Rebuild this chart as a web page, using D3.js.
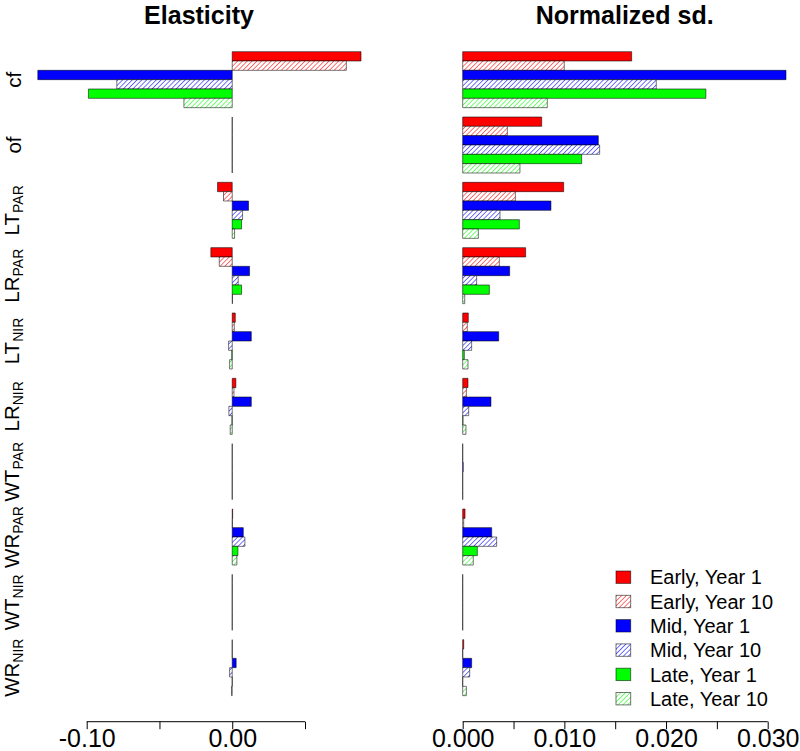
<!DOCTYPE html>
<html>
<head>
<meta charset="utf-8">
<script src="https://cdn.jsdelivr.net/npm/d3@7"></script>
<style>
  html, body { margin: 0; padding: 0; background: #fff; }
  svg { display: block; font-family: "Liberation Sans", Arial, Helvetica, sans-serif; }
</style>
</head>
<body>
<svg id="chart" width="800" height="751"></svg>
<script>
// ---- data ----
const categories = ["cf", "of", "LT_PAR", "LR_PAR", "LT_NIR", "LR_NIR", "WT_PAR", "WR_PAR", "WT_NIR", "WR_NIR"];
const seriesNames = ["Early, Year 1", "Early, Year 10", "Mid, Year 1", "Mid, Year 10", "Late, Year 1", "Late, Year 10"];
const seriesColors = ["#FF0000", "#FF0000", "#0000FF", "#0000FF", "#00FF00", "#00FF00"];
const seriesHatched = [false, true, false, true, false, true];

// Elasticity
const elasEarlyY1  = [0.0885, 0, -0.0101, -0.0147,  0.0021,  0.0025, 0, 0.0003, 0,  0];
const elasEarlyY10 = [0.0784, 0, -0.0060, -0.0089,  0.0014,  0.0012, 0, 0.0001, 0,  0];
const elasMidY1    = [-0.1336, 0, 0.0112,  0.0119,  0.0131,  0.0131, 0, 0.0076, 0,  0.0027];
const elasMidY10   = [-0.0793, 0, 0.0071,  0.0041, -0.0025, -0.0023, 0, 0.0087, 0, -0.0018];
const elasLateY1   = [-0.0988, 0, 0.0064,  0.0064, -0.0003, -0.0002, 0, 0.0039, 0,  0];
const elasLateY10  = [-0.0332, 0, 0.0016,  0.0002, -0.0018, -0.0014, 0, 0.0032, 0, -0.0005];

// Normalized sd.
const sdEarlyY1  = [0.01662, 0.00777, 0.00993, 0.00619, 0.00055, 0.00052, 0,       0.00023, 0, 0.0001];
const sdEarlyY10 = [0.00999, 0.00439, 0.00518, 0.00360, 0.00045, 0.00036, 0,       0.00010, 0, 0];
const sdMidY1    = [0.03180, 0.01334, 0.00868, 0.00462, 0.00354, 0.00278, 0.00005, 0.00285, 0, 0.00088];
const sdMidY10   = [0.01904, 0.01347, 0.00367, 0.00137, 0.00088, 0.00059, 0,       0.00334, 0, 0.00069];
const sdLateY1   = [0.02392, 0.01170, 0.00557, 0.00262, 0.00016, 0.00003, 0,       0.00144, 0, 0];
const sdLateY10  = [0.00832, 0.00563, 0.00154, 0.00020, 0.00052, 0.00032, 0,       0.00104, 0, 0.00036];

const elasTicks = [-0.10, -0.05, 0.00, 0.05];
const elasTickLabels = ["-0.10", "", "0.00", ""];
const sdTicks = [0, 0.005, 0.010, 0.015, 0.020, 0.025, 0.030];
const sdTickLabels = ["0.000", "", "0.010", "", "0.020", "", "0.030"];

const elasSeries = [elasEarlyY1, elasEarlyY10, elasMidY1, elasMidY10, elasLateY1, elasLateY10];
const sdSeries = [sdEarlyY1, sdEarlyY10, sdMidY1, sdMidY10, sdLateY1, sdLateY10];

// ---- layout ----
const svg = d3.select("#chart");
const defs = svg.append("defs");
const FONT = '"Liberation Sans", Arial, Helvetica, sans-serif';

seriesColors.forEach((c, i) => {
  if (!seriesHatched[i]) return;
  const p = defs.append("pattern")
    .attr("id", "hatch" + i)
    .attr("patternUnits", "userSpaceOnUse")
    .attr("width", 3.4).attr("height", 3.4)
    .attr("patternTransform", "rotate(45)");
  p.append("rect").attr("width", 3.4).attr("height", 3.4).attr("fill", "#fff");
  p.append("line").attr("x1", 0).attr("y1", -1).attr("x2", 0).attr("y2", 5)
    .attr("stroke", c).attr("stroke-width", 1.1);
});
const fillOf = i => seriesHatched[i] ? `url(#hatch${i})` : seriesColors[i];

const yGroup = d3.scaleBand().domain(categories)
  .range([47, 700.33]).paddingInner(1 / 7).paddingOuter(1 / 14);
const yBar = d3.scaleBand().domain(seriesNames).range([0, yGroup.bandwidth()]);

const xElas = d3.scaleLinear().domain([-0.10, 0.05]).range([86.7, 305]);
const xSd = d3.scaleLinear().domain([0, 0.030]).range([462.7, 767.7]);

function drawPanel(xScale, seriesArr, ticks, tickLabels, title, titleX) {
  const g = svg.append("g");
  seriesArr.forEach((vals, si) => {
    vals.forEach((v, ci) => {
      const y0 = yGroup(categories[ci]) + yBar(seriesNames[si]);
      const h = yBar.bandwidth();
      const x0 = xScale(0), x1 = xScale(v);
      const xa = Math.min(x0, x1), w = Math.abs(x1 - x0);
      g.append("path")
        .attr("d", `M${xa},${y0}h${w}v${h}h${-w}Z`)
        .attr("fill", fillOf(si))
        .attr("stroke", "#000")
        .attr("stroke-opacity", 0.6)
        .attr("stroke-width", 0.9);
    });
  });
  const axisY = 721.7;
  const ax = svg.append("g").attr("transform", `translate(0,${axisY})`)
    .call(d3.axisBottom(xScale).tickValues(ticks).tickSize(7.5)
      .tickFormat((d, i) => tickLabels[i]));
  ax.select(".domain").attr("stroke", "#000").attr("stroke-width", 1)
    .attr("d", `M${xScale(ticks[0])},0H${xScale(ticks[ticks.length - 1])}`);
  ax.selectAll(".tick line").attr("stroke", "#000").attr("stroke-width", 1);
  ax.selectAll(".tick text")
    .attr("y", 747 - axisY).attr("dy", 0)
    .attr("font-family", FONT).attr("font-size", 25).attr("fill", "#000");
  svg.append("text").attr("x", titleX).attr("y", 23.5)
    .attr("text-anchor", "middle").attr("font-family", FONT)
    .attr("font-weight", "bold").attr("font-size", 25).text(title);
}

drawPanel(xElas, elasSeries, elasTicks, elasTickLabels, "Elasticity", 199);
drawPanel(xSd, sdSeries, sdTicks, sdTickLabels, "Normalized sd.", 624.7);

// category labels (rotated)
categories.forEach(c => {
  const cy = yGroup(c) + yGroup.bandwidth() / 2;
  const parts = c.split("_");
  const t = svg.append("text")
    .attr("transform", `translate(${parts.length > 1 ? 19 : 21},${cy}) rotate(-90)`)
    .attr("text-anchor", "middle").attr("font-family", FONT).attr("fill", "#000");
  t.append("tspan").attr("font-size", 20.5).text(parts[0]);
  if (parts.length > 1) {
    t.append("tspan").attr("font-size", 14).attr("dy", 4).text(parts[1]);
  }
});

// legend
const legG = svg.append("g");
seriesNames.forEach((s, i) => {
  const cy = 577.2 + i * 24.3;
  legG.append("rect").attr("x", 616).attr("y", cy - 6.2).attr("width", 14.7).attr("height", 12.4)
    .attr("fill", fillOf(i)).attr("stroke", "#000").attr("stroke-opacity", 0.6).attr("stroke-width", 0.9);
  legG.append("text").attr("x", 650).attr("y", cy + 7.2)
    .attr("font-family", FONT).attr("font-size", 20).attr("fill", "#000").text(s);
});
</script>
</body>
</html>
